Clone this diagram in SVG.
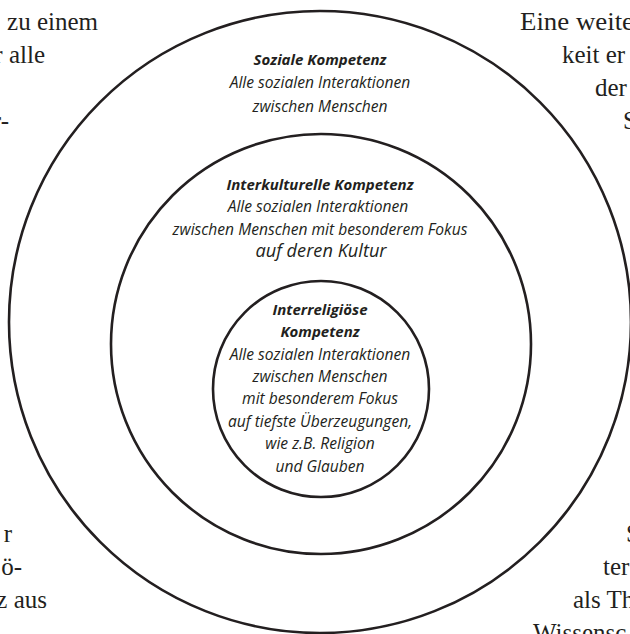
<svg xmlns="http://www.w3.org/2000/svg" width="630" height="634" viewBox="0 0 630 634">
<style>
.ring{fill:none;stroke:#231f20;stroke-width:2.6}
.bg{font-family:"Liberation Serif",serif;font-size:25px;fill:#231f20}
.t{font-family:"Open Sans",sans-serif;font-style:italic;font-size:15.6px;fill:#231f20;text-anchor:middle}
.h{font-weight:bold;font-size:15px}
</style>
<rect width="630" height="634" fill="#fff"/>
<g id="background-text">
<text class="bg" x="98" y="30" text-anchor="end">zu einem</text>
<text class="bg" x="45" y="63" text-anchor="end">r alle</text>
<text class="bg" x="9" y="129" text-anchor="end">r-</text>
<text class="bg" x="12" y="542" text-anchor="end">r</text>
<text class="bg" x="22" y="575" text-anchor="end">ö-</text>
<text class="bg" x="47" y="608" text-anchor="end">z aus</text>
<text class="bg" x="520" y="30" textLength="114" lengthAdjust="spacingAndGlyphs">Eine weite</text>
<text class="bg" x="562" y="63">keit er</text>
<text class="bg" x="595" y="96">der</text>
<text class="bg" x="623" y="129">S</text>
<text class="bg" x="626" y="542">S</text>
<text class="bg" x="603" y="575">ter</text>
<text class="bg" x="573" y="608">als Th</text>
<text class="bg" x="533" y="641">Wissensc</text>
</g>
<g id="node-soziale">
<circle class="ring" cx="320" cy="322" r="311"/>
<text class="t h" x="320" y="65">Soziale Kompetenz</text>
<text class="t" x="320" y="88">Alle sozialen Interaktionen</text>
<text class="t" x="320" y="112">zwischen Menschen</text>
</g>
<g id="node-interkulturelle">
<circle class="ring" cx="321" cy="344" r="210"/>
<text class="t h" x="320" y="190">Interkulturelle Kompetenz</text>
<text class="t" x="318" y="212">Alle sozialen Interaktionen</text>
<text class="t" x="320" y="235">zwischen Menschen mit besonderem Fokus</text>
<text class="t" x="321" y="257" style="font-size:18.2px">auf deren Kultur</text>
</g>
<g id="node-interreligioese">
<circle class="ring" cx="321" cy="389" r="108"/>
<text class="t h" x="320" y="315">Interreligiöse</text>
<text class="t h" x="320" y="337">Kompetenz</text>
<text class="t" x="320" y="360">Alle sozialen Interaktionen</text>
<text class="t" x="320" y="382">zwischen Menschen</text>
<text class="t" x="320" y="404">mit besonderem Fokus</text>
<text class="t" x="320" y="427">auf tiefste Überzeugungen,</text>
<text class="t" x="320" y="449">wie z.B. Religion</text>
<text class="t" x="320" y="472">und Glauben</text>
</g>
<g id="connectors"></g>
</svg>
